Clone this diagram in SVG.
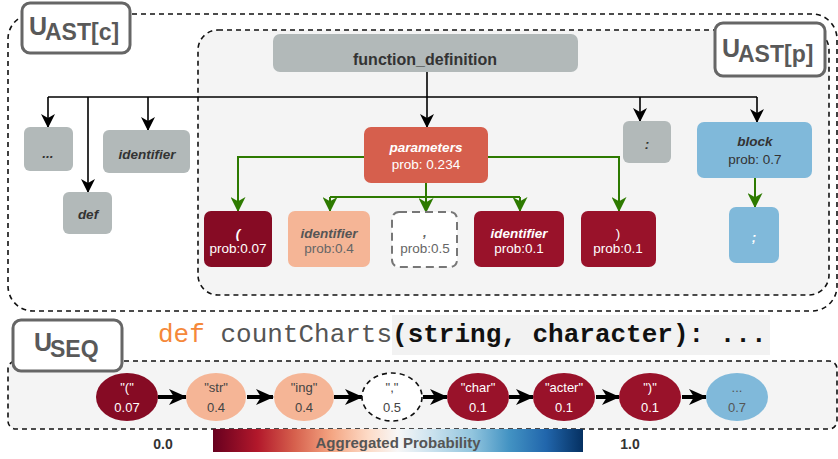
<svg xmlns="http://www.w3.org/2000/svg" width="838" height="459" viewBox="0 0 838 459">
<defs>
<style>
.t{font-family:"Liberation Sans",Arial,sans-serif;text-anchor:middle}
.bi{font-weight:bold;font-style:italic}
.n13{font-size:13.5px}
.dash{fill:none;stroke:#111;stroke-width:1.6;stroke-dasharray:5 4}
.lbl{fill:#fff;stroke:#666;stroke-width:3}
.lt{font-family:"Liberation Sans",Arial,sans-serif;font-weight:bold;fill:#595959}
.gray{fill:#b2b9b9}
.blk{fill:none;stroke:#000;stroke-width:1.6}
.grn{fill:none;stroke:#2d7a00;stroke-width:2}
.seq{fill:none;stroke:#000;stroke-width:4}
.mono{font-family:"Liberation Mono","Courier New",monospace;font-size:26px}
</style>
<marker id="ab" markerUnits="userSpaceOnUse" markerWidth="14" markerHeight="14" viewBox="0 0 14 14" refX="13" refY="7" orient="auto">
<path d="M0,0 L14,7 L0,14 L4,7 Z" fill="#000"/>
</marker>
<marker id="ag" markerUnits="userSpaceOnUse" markerWidth="15" markerHeight="15" viewBox="0 0 14 14" refX="13" refY="7" orient="auto">
<path d="M0,0 L14,7 L0,14 L4,7 Z" fill="#2d7a00"/>
</marker>
<marker id="as" markerUnits="userSpaceOnUse" markerWidth="18" markerHeight="16" viewBox="0 0 18 16" refX="17" refY="8" orient="auto">
<path d="M0,0 L18,8 L0,16 L5,8 Z" fill="#000"/>
</marker>
<linearGradient id="rdbu" x1="0" y1="0" x2="1" y2="0">
<stop offset="0" stop-color="#67001f"/>
<stop offset="0.12" stop-color="#b2182b"/>
<stop offset="0.22" stop-color="#d6604d"/>
<stop offset="0.32" stop-color="#f4a582"/>
<stop offset="0.42" stop-color="#fddbc7"/>
<stop offset="0.5" stop-color="#f7f7f7"/>
<stop offset="0.58" stop-color="#d1e5f0"/>
<stop offset="0.7" stop-color="#92c5de"/>
<stop offset="0.8" stop-color="#4393c3"/>
<stop offset="0.9" stop-color="#2166ac"/>
<stop offset="1" stop-color="#053061"/>
</linearGradient>
</defs>

<!-- containers -->
<g id="ast-c">
<rect x="8" y="14" width="829" height="297" rx="25" class="dash"/>
</g>
<g id="ast-p">
<rect x="198" y="30" width="631" height="265" rx="20" class="dash" style="fill:#f4f4f4"/>
</g>
<g id="seq-box">
<rect x="8" y="361" width="829" height="68" rx="8" class="dash" style="fill:#f4f4f4"/>
</g>

<!-- labels -->
<g id="label-ast-c">
<rect x="22" y="3" width="108" height="50" rx="8" class="lbl"/>
<text class="lt" x="29" y="35" font-size="25">U</text>
<text class="lt" x="45" y="40" font-size="23">AST[c]</text>
</g>
<g id="label-ast-p">
<rect x="715" y="23" width="110" height="53" rx="8" class="lbl"/>
<text class="lt" x="722" y="57" font-size="25">U</text>
<text class="lt" x="738" y="62" font-size="23">AST[p]</text>
</g>
<g id="label-seq">
<rect x="13" y="320" width="109" height="51" rx="8" class="lbl"/>
<text class="lt" x="34" y="351" font-size="25">U</text>
<text class="lt" x="50" y="357" font-size="23">SEQ</text>
</g>

<!-- connectors -->
<g id="connectors">
<path class="blk" d="M427,72 V127" marker-end="url(#ab)"/>
<path class="blk" d="M48,97 H757"/>
<path class="blk" d="M48,97 V127" marker-end="url(#ab)"/>
<path class="blk" d="M88,97 V192" marker-end="url(#ab)"/>
<path class="blk" d="M148,97 V130" marker-end="url(#ab)"/>
<path class="blk" d="M640,97 V121" marker-end="url(#ab)"/>
<path class="blk" d="M757,97 V122" marker-end="url(#ab)"/>
<path class="grn" d="M364,157 H238 V211" marker-end="url(#ag)"/>
<path class="grn" d="M488,157 H619 V211" marker-end="url(#ag)"/>
<path class="grn" d="M426,183 V212" marker-end="url(#ag)"/>
<path class="grn" d="M330,197 H520"/>
<path class="grn" d="M330,197 V211" marker-end="url(#ag)"/>
<path class="grn" d="M520,197 V211" marker-end="url(#ag)"/>
<path class="grn" d="M755,178 V207" marker-end="url(#ag)"/>
<path class="seq" d="M158,397 H186" marker-end="url(#as)"/>
<path class="seq" d="M247,397 H273" marker-end="url(#as)"/>
<path class="seq" d="M334,397 H362" marker-end="url(#as)"/>
<path class="seq" d="M423,397 H447" marker-end="url(#as)"/>
<path class="seq" d="M509,397 H533" marker-end="url(#as)"/>
<path class="seq" d="M596,397 H619" marker-end="url(#as)"/>
<path class="seq" d="M682,397 H706" marker-end="url(#as)"/>
</g>

<!-- AST nodes -->
<g id="n-function-definition">
<rect x="273" y="34" width="305" height="38" rx="7" class="gray"/>
<text class="t" x="425" y="65" font-size="16" font-weight="bold" fill="#333">function_definition</text>
</g>
<g id="n-ellipsis">
<rect x="24" y="127" width="49" height="44" rx="6" class="gray"/>
<text class="t bi n13" x="48" y="158" fill="#333">...</text>
</g>
<g id="n-identifier-c">
<rect x="103" y="130" width="87" height="43" rx="6" class="gray"/>
<text class="t bi n13" x="147" y="159" fill="#333">identifier</text>
</g>
<g id="n-def">
<rect x="63" y="192" width="49" height="42" rx="6" class="gray"/>
<text class="t bi n13" x="88" y="219" fill="#333">def</text>
</g>
<g id="n-parameters">
<rect x="364" y="127" width="124" height="56" rx="7" fill="#d65f4d"/>
<text class="t bi n13" x="426" y="152" fill="#fff">parameters</text>
<text class="t n13" x="426" y="169" fill="#fff">prob: 0.234</text>
</g>
<g id="n-colon">
<rect x="623" y="121" width="48" height="42" rx="6" class="gray"/>
<text class="t bi n13" x="647" y="149" fill="#333">:</text>
</g>
<g id="n-block">
<rect x="697" y="122" width="115" height="56" rx="7" fill="#80b9da"/>
<text class="t bi n13" x="755" y="146" fill="#333">block</text>
<text class="t n13" x="755" y="164" fill="#333">prob: 0.7</text>
</g>
<g id="n-semicolon">
<rect x="729" y="207" width="50" height="56" rx="7" fill="#80b9da"/>
<text class="t bi n13" x="754" y="242" fill="#fff">;</text>
</g>
<g id="n-lparen">
<rect x="204" y="211" width="68" height="56" rx="7" fill="#860b24"/>
<text class="t bi n13" x="238" y="238" fill="#fff">(</text>
<text class="t n13" x="238" y="253" fill="#fff">prob:0.07</text>
</g>
<g id="n-identifier-1">
<rect x="288" y="211" width="82" height="56" rx="7" fill="#f5b596"/>
<text class="t bi n13" x="329" y="238" fill="#555">identifier</text>
<text class="t n13" x="329" y="253" fill="#666">prob:0.4</text>
</g>
<g id="n-comma">
<rect x="392" y="212" width="65" height="55" rx="7" fill="#fff" stroke="#777" stroke-width="2" stroke-dasharray="8 5"/>
<text class="t bi n13" x="425" y="237" fill="#666">,</text>
<text class="t n13" x="425" y="253" fill="#666">prob:0.5</text>
</g>
<g id="n-identifier-2">
<rect x="474" y="211" width="90" height="56" rx="7" fill="#99122a"/>
<text class="t bi n13" x="519" y="238" fill="#fff">identifier</text>
<text class="t n13" x="519" y="253" fill="#fff">prob:0.1</text>
</g>
<g id="n-rparen">
<rect x="581" y="211" width="75" height="56" rx="7" fill="#99122a"/>
<text class="t n13" x="618" y="238" fill="#fff">)</text>
<text class="t n13" x="618" y="253" fill="#fff">prob:0.1</text>
</g>

<!-- code line -->
<g id="code">
<rect x="392" y="315" width="378" height="40" fill="#f2f2f2"/>
<text class="mono" x="158" y="342"><tspan fill="#f5883a">def </tspan><tspan fill="#555">countCharts</tspan><tspan font-weight="bold" fill="#111">(string, character): ...</tspan></text>
</g>

<!-- sequence nodes -->
<g id="s-lparen">
<ellipse cx="127" cy="397" rx="31" ry="24" fill="#860b24"/>
<text class="t" font-size="13" x="127" y="392" fill="#fff">"("</text>
<text class="t" font-size="13" x="127" y="412" fill="#fff">0.07</text>
</g>
<g id="s-str">
<ellipse cx="216" cy="397" rx="30" ry="24" fill="#f5b596"/>
<text class="t" font-size="13" x="216" y="392" fill="#444">"str"</text>
<text class="t" font-size="13" x="216" y="412" fill="#444">0.4</text>
</g>
<g id="s-ing">
<ellipse cx="304" cy="397" rx="30" ry="24" fill="#f5b596"/>
<text class="t" font-size="13" x="304" y="392" fill="#444">"ing"</text>
<text class="t" font-size="13" x="304" y="412" fill="#444">0.4</text>
</g>
<g id="s-comma">
<ellipse cx="392" cy="397" rx="30" ry="24" fill="#fff" stroke="#111" stroke-width="1.6" stroke-dasharray="5 4"/>
<text class="t" font-size="13" x="392" y="392" fill="#444">","</text>
<text class="t" font-size="13" x="392" y="412" fill="#444">0.5</text>
</g>
<g id="s-char">
<ellipse cx="478" cy="397" rx="31" ry="24" fill="#99122a"/>
<text class="t" font-size="13" x="478" y="392" fill="#fff">"char"</text>
<text class="t" font-size="13" x="478" y="412" fill="#fff">0.1</text>
</g>
<g id="s-acter">
<ellipse cx="564" cy="397" rx="31" ry="24" fill="#99122a"/>
<text class="t" font-size="13" x="564" y="392" fill="#fff">"acter"</text>
<text class="t" font-size="13" x="564" y="412" fill="#fff">0.1</text>
</g>
<g id="s-rparen">
<ellipse cx="650" cy="397" rx="31" ry="24" fill="#99122a"/>
<text class="t" font-size="13" x="650" y="392" fill="#fff">")"</text>
<text class="t" font-size="13" x="650" y="412" fill="#fff">0.1</text>
</g>
<g id="s-more">
<ellipse cx="737" cy="397" rx="31" ry="24" fill="#80b9da"/>
<text class="t" font-size="13" x="737" y="392" fill="#555">...</text>
<text class="t" font-size="13" x="737" y="412" fill="#555">0.7</text>
</g>

<!-- colour bar -->
<g id="colorbar">
<rect x="213" y="429" width="370" height="23" fill="url(#rdbu)"/>
<text class="t" x="398" y="448" font-size="15" font-weight="bold" fill="#555">Aggregated Probability</text>
<text class="t" x="163" y="449" font-size="14" font-weight="bold" fill="#333">0.0</text>
<text class="t" x="630" y="449" font-size="14" font-weight="bold" fill="#333">1.0</text>
</g>
</svg>
